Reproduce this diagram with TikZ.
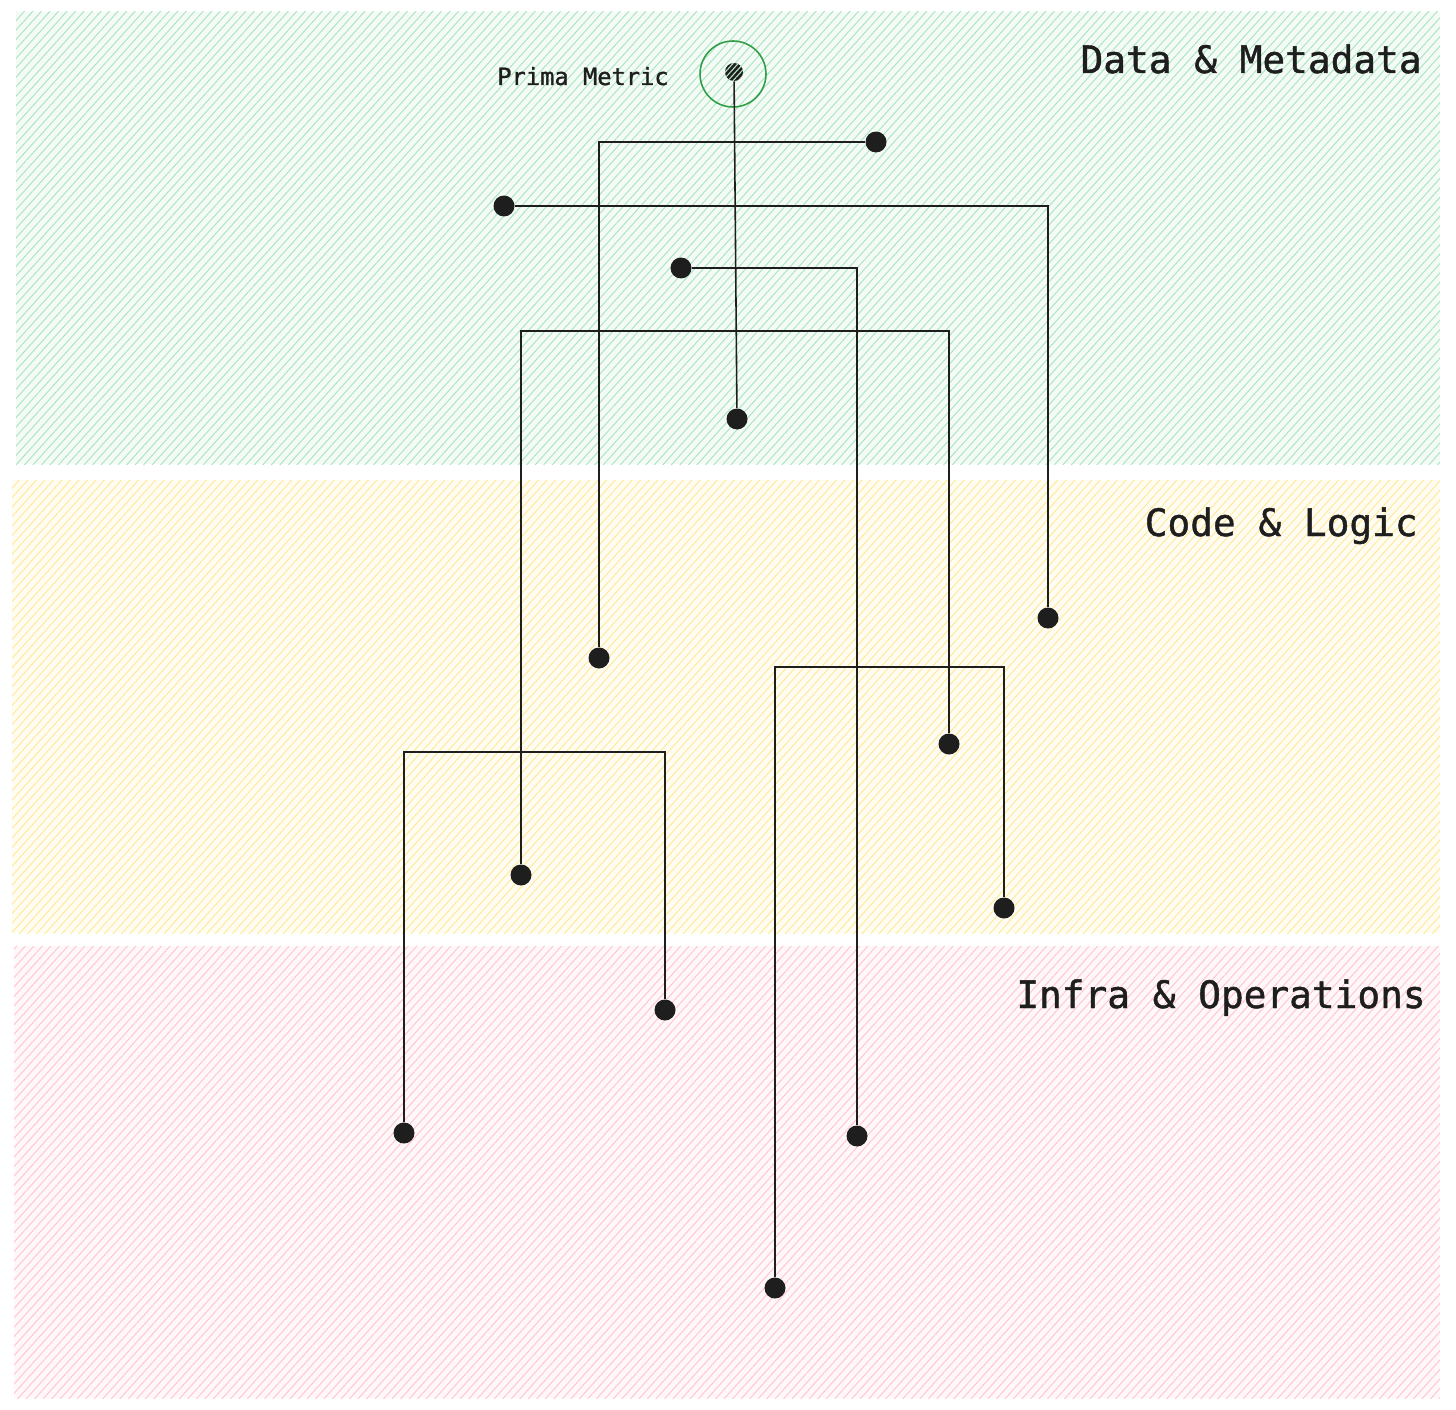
\documentclass[tikz,border=0pt]{standalone}
\usepackage{fontspec}
\setmonofont{DejaVu Sans Mono}
\newfontfamily\layerfont[FakeBold=1.2]{DejaVu Sans Mono}
\usepackage{xcolor}
\usetikzlibrary{arrows.meta,positioning,patterns.meta}
\definecolor{bandgreen}{HTML}{8EDCA8}
\definecolor{bandyellow}{HTML}{FFE27A}
\definecolor{bandpink}{HTML}{FFB3BF}
\definecolor{metricgreen}{HTML}{2F9E44}
\definecolor{ink}{HTML}{1E1E1E}

\begin{document}
\begin{tikzpicture}[x=0.02cm, y=-0.02cm,
  band/.style={draw=none, preaction={fill=#1!10}, pattern={Lines[angle=48, distance=3.6pt, line width=0.55pt]}, pattern color=#1!75!white},
  pin/.style={circle, fill=ink, inner sep=0pt, minimum size=0.42cm},
  layer/.style={font=\layerfont\fontsize{21.5}{24}\selectfont, text=ink, anchor=base east, inner sep=0pt},
  wire/.style={draw=ink, line width=0.9pt}]
\useasboundingbox (0,0) rectangle (1456,1409);

% layer bands
\path[band=bandgreen]  (16,12)  rectangle (1440,464);
\path[band=bandyellow] (12,480) rectangle (1440,933);
\path[band=bandpink]   (14,946) rectangle (1440,1398);

\node[layer] (lData)  at (1422,73)   {Data \& Metadata};
\node[layer] (lCode)  at (1418,536)  {Code \& Logic};
\node[layer] (lInfra) at (1426,1008) {Infra \& Operations};

% prima metric
\node[circle, draw=metricgreen, line width=0.9pt, minimum size=1.32cm, inner sep=0pt] (ring) at (733,74) {};
\node[pin, minimum size=0.36cm, postaction={pattern={Lines[angle=48, distance=2.2pt, line width=0.6pt]}, pattern color=bandgreen!60!white}] (metric) at (734,72) {};
\node[font=\layerfont\fontsize{13.5}{16}\selectfont, text=ink, anchor=base, inner sep=0pt] (lMetric) at (583,85) {Prima Metric};

% data pins
\node[pin] (d1) at (737,419) {};
\node[pin] (d2) at (876,142) {};
\node[pin] (d3) at (504,206) {};
\node[pin] (d4) at (681,268) {};

% code pins
\node[pin] (c2) at (599,658) {};
\node[pin] (c3) at (1048,618) {};
\node[pin] (c5) at (949,744) {};
\node[pin] (c5b) at (521,875) {};
\node[pin] (c6) at (1004,908) {};

% infra pins
\node[pin] (i4) at (857,1136) {};
\node[pin] (i6) at (775,1288) {};
\node[pin] (i7) at (404,1133) {};
\node[pin] (i7b) at (665,1010) {};

% bracket tops
\coordinate (b5) at (521,331);
\coordinate (b6) at (775,667);
\coordinate (b7) at (404,752);

% connectors
\draw[wire] (metric) -- (d1);
\draw[wire] (d2) -| (c2);
\draw[wire] (d3) -| (c3);
\draw[wire] (d4) -| (i4);
\draw[wire] (c5b) -- (b5) -| (c5);
\draw[wire] (i6) -- (b6) -| (c6);
\draw[wire] (i7) -- (b7) -| (i7b);
\end{tikzpicture}
\end{document}
